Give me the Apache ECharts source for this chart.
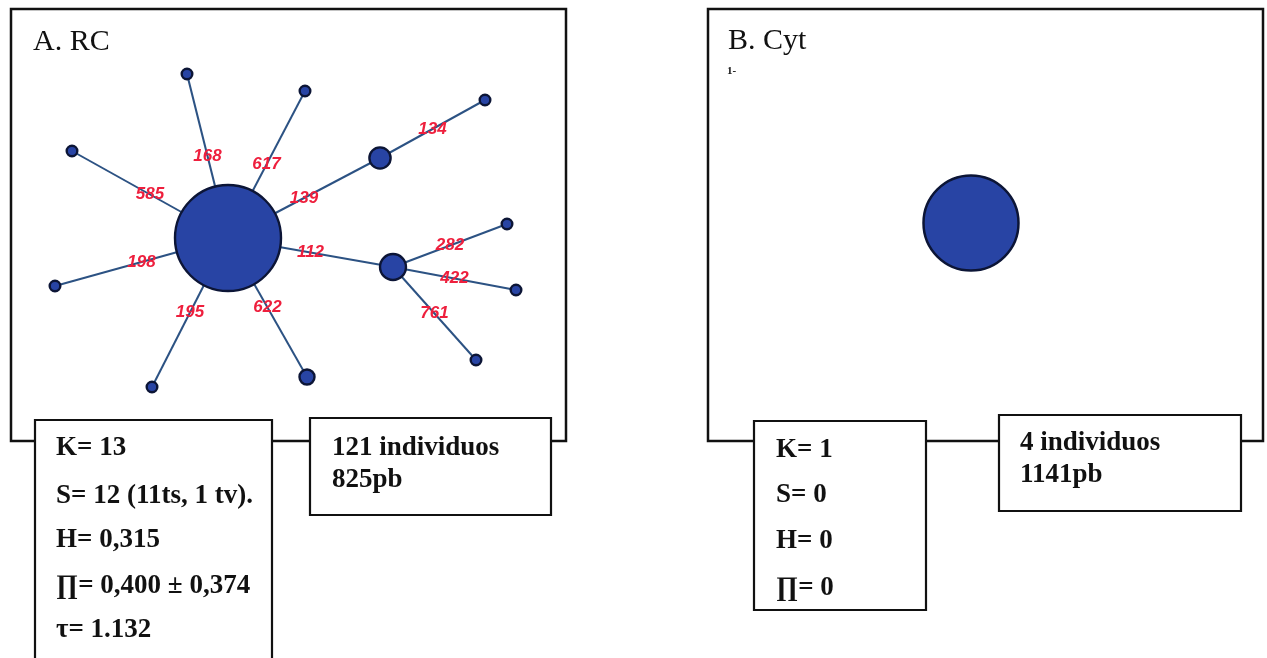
<!DOCTYPE html>
<html>
<head>
<meta charset="utf-8">
<script src="https://cdn.jsdelivr.net/npm/echarts@6/dist/echarts.min.js"></script>
<style>
html,body{margin:0;padding:0;background:#ffffff;}
#chart{width:1267px;height:658px;}
</style>
</head>
<body>
<div id="chart"></div>
<script>
// ---------- DATA ----------
// Panel A (RC): haplotype network, node layout units measured from panel top-left
const hapNamesA = ['H1','H2','H3','H4','H5','H6','H7','H8','H9','H10','H11','H12','H13'];
const hapXA = [217, 176, 294, 61, 44, 141, 296, 369, 474, 382, 496, 505, 465];
const hapYA = [229, 65, 82, 142, 277, 378, 368, 149, 91, 258, 215, 281, 351];
const hapFreqA = [100, 1, 1, 1, 1, 1, 2, 4, 1, 6, 1, 1, 1];
const linkSourceA = [0, 0, 0, 0, 0, 0, 0, 7, 0, 9, 9, 9];
const linkTargetA = [1, 2, 3, 4, 5, 6, 7, 8, 9, 10, 11, 12];
const mutationSitesA = ['168', '617', '585', '198', '195', '622', '139', '134', '112', '282', '422', '761'];

// Panel B (Cyt): single haplotype
const hapXB = [263];
const hapYB = [214];
const hapFreqB = [4];

// Titles and summary statistics
const titleA = 'A. RC';
const titleB = 'B. Cyt';
const noteB = '1-';
const statsA = ['K= 13', 'S= 12 (11ts, 1 tv).', 'H= 0,315', '\u220F= 0,400 \u00B1 0,374', '\u03C4= 1.132'];
const sampleA = ['121 individuos', '825pb'];
const statsB = ['K= 1', 'S= 0', 'H= 0', '\u220F= 0'];
const sampleB = ['4 individuos', '1141pb'];

// ---------- STYLE / LAYOUT ----------
const PANEL_W = 555, PANEL_H = 432;
const panelA = {x: 11, y: 9};
const panelB = {x: 708, y: 9};
const sizeUnitA = 10.6;   // px diameter per sqrt(individual)
const sizeUnitB = 47.5;
const nodeFill = '#2844a4';
const nodeBorder = '#0c1536';
const edgeColor = '#2c5283';
const labelRed = '#ee1f3d';
const ink = '#111111';
const serif = '"Liberation Serif", "Times New Roman", "DejaVu Serif", serif';

const nodesA = hapNamesA.map((n, i) => ({
  name: n,
  value: [hapXA[i], hapYA[i]],
  symbolSize: sizeUnitA * Math.sqrt(hapFreqA[i])
}));
const linksA = linkSourceA.map((s, i) => ({source: s, target: linkTargetA[i]}));
const labelPtsA = linkSourceA.map((s, i) => {
  const t = linkTargetA[i];
  return [(hapXA[s] + hapXA[t]) / 2, (hapYA[s] + hapYA[t]) / 2, mutationSitesA[i]];
});
const nodesB = hapXB.map((x, i) => ({
  value: [x, hapYB[i]],
  symbolSize: sizeUnitB * Math.sqrt(hapFreqB[i])
}));

function box(x, y, w, h, z) {
  return {type: 'rect', z: z, shape: {x: x, y: y, width: w, height: h},
    style: {fill: '#ffffff', stroke: ink, lineWidth: 2.2}};
}
function txt(x, y, s, font, z) {
  return {type: 'text', z: z || 10, x: x, y: y,
    style: {text: s, font: font, fill: ink, align: 'left', verticalAlign: 'middle'}};
}
const statFont = 'bold 27px ' + serif;
const graphics = [];
// panel frames
graphics.push({type: 'rect', z: 1, shape: {x: panelA.x, y: panelA.y, width: PANEL_W, height: PANEL_H},
  style: {fill: 'none', stroke: ink, lineWidth: 2.5}});
graphics.push({type: 'rect', z: 1, shape: {x: panelB.x, y: panelB.y, width: PANEL_W, height: PANEL_H},
  style: {fill: 'none', stroke: ink, lineWidth: 2.5}});
// titles
graphics.push(txt(33, 42, titleA, '30px ' + serif));
graphics.push(txt(728, 41, titleB, '30px ' + serif));
graphics.push(txt(727, 71, noteB, 'bold 11px ' + serif));
// boxes A
graphics.push(box(35, 420, 237, 270, 5));
graphics.push(box(310, 418, 241, 97, 5));
const statYA = [448.5, 496.5, 540, 586.5, 630];
statsA.forEach((s, i) => graphics.push(txt(56, statYA[i], s, statFont)));
sampleA.forEach((s, i) => graphics.push(txt(332, [448, 480][i], s, statFont)));
// boxes B
graphics.push(box(754, 421, 172, 189, 5));
graphics.push(box(999, 415, 242, 96, 5));
const statYB = [450, 495, 541.5, 588];
statsB.forEach((s, i) => graphics.push(txt(776, statYB[i], s, statFont)));
sampleB.forEach((s, i) => graphics.push(txt(1020, [443, 475][i], s, statFont)));

const axisCommon = {type: 'value', show: false, splitLine: {show: false}};

const option = {
  backgroundColor: '#ffffff',
  animation: false,
  grid: [
    {left: panelA.x, top: panelA.y, width: PANEL_W, height: PANEL_H},
    {left: panelB.x, top: panelB.y, width: PANEL_W, height: PANEL_H}
  ],
  xAxis: [
    Object.assign({gridIndex: 0, min: 0, max: PANEL_W}, axisCommon),
    Object.assign({gridIndex: 1, min: 0, max: PANEL_W}, axisCommon)
  ],
  yAxis: [
    Object.assign({gridIndex: 0, min: 0, max: PANEL_H, inverse: true}, axisCommon),
    Object.assign({gridIndex: 1, min: 0, max: PANEL_H, inverse: true}, axisCommon)
  ],
  graphic: {elements: graphics},
  series: [
    {
      type: 'graph',
      coordinateSystem: 'cartesian2d',
      xAxisIndex: 0, yAxisIndex: 0,
      layout: 'none',
      z: 3,
      symbol: 'circle',
      data: nodesA,
      links: linksA,
      label: {show: false},
      itemStyle: {color: nodeFill, borderColor: nodeBorder, borderWidth: 2.4, opacity: 1},
      lineStyle: {color: edgeColor, width: 2, opacity: 1, curveness: 0},
      emphasis: {disabled: true}
    },
    {
      type: 'scatter',
      xAxisIndex: 0, yAxisIndex: 0,
      z: 4,
      symbolSize: 0,
      itemStyle: {opacity: 1},
      data: labelPtsA,
      label: {
        show: true, position: 'inside',
        formatter: p => p.value[2],
        color: labelRed, opacity: 1, fontStyle: 'italic', fontWeight: 'bold',
        fontFamily: '"Liberation Sans", Arial, sans-serif', fontSize: 17
      },
      emphasis: {disabled: true}
    },
    {
      type: 'scatter',
      xAxisIndex: 1, yAxisIndex: 1,
      z: 3,
      symbol: 'circle',
      data: nodesB,
      itemStyle: {color: nodeFill, borderColor: nodeBorder, borderWidth: 2.5, opacity: 1},
      emphasis: {disabled: true}
    }
  ]
};

const chart = echarts.init(document.getElementById('chart'), null, {renderer: 'canvas'});
chart.setOption(option);
</script>
</body>
</html>
